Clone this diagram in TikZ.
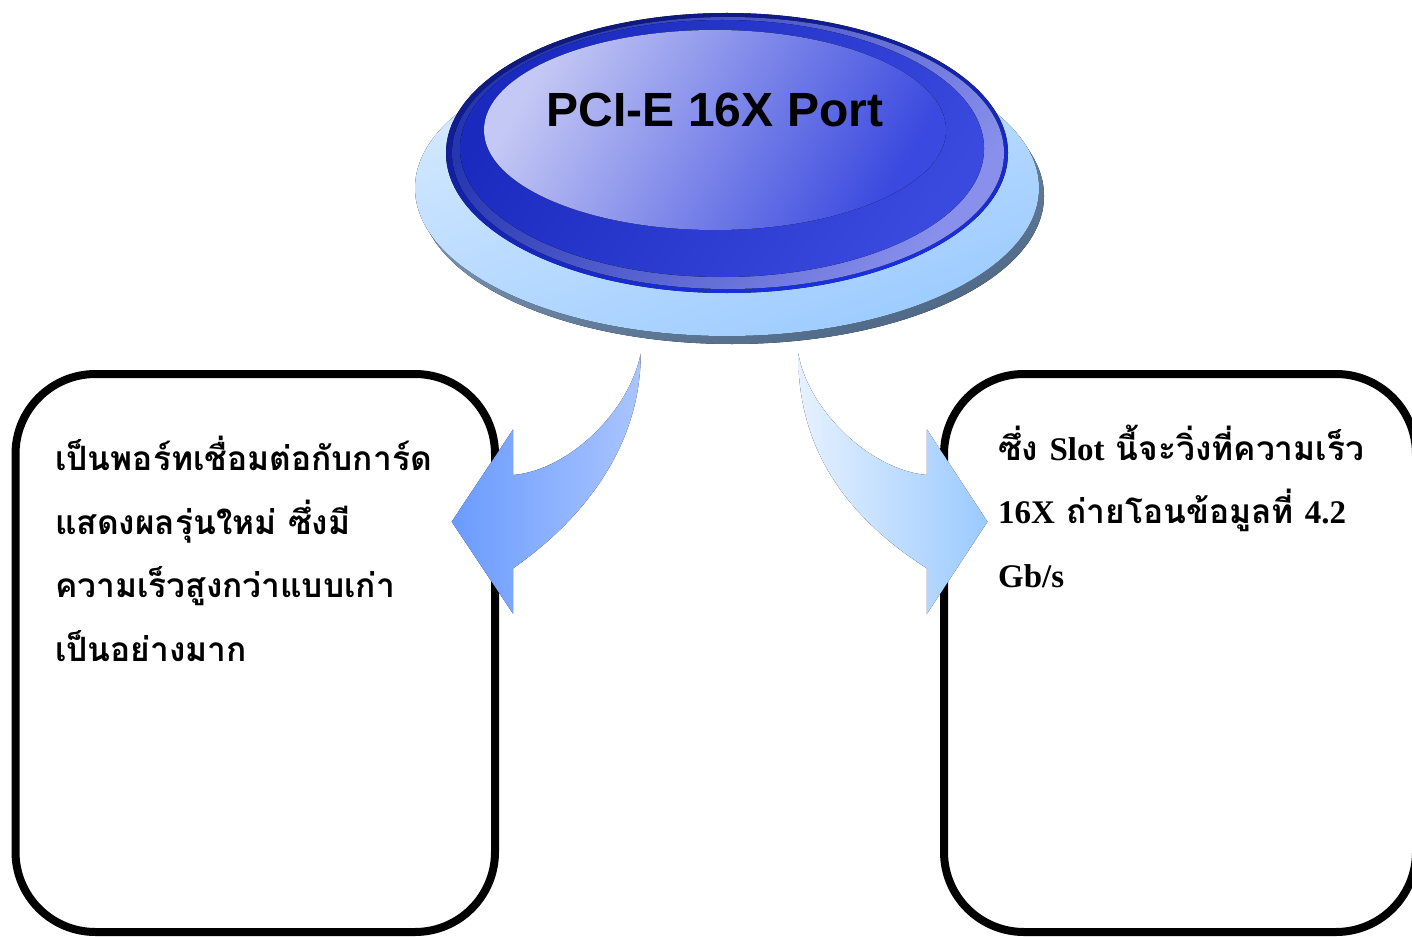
\documentclass[tikz,border=0pt]{standalone}
\usepackage{fontspec}
\newfontfamily\thfont[Script=Thai]{Loma}
\newfontfamily\latfont{Liberation Serif}
\newfontfamily\hdfont{Liberation Sans}
\definecolor{shadowL}{HTML}{8FAAC6}
\definecolor{shadowR}{HTML}{4E6785}
\definecolor{plateL}{HTML}{D6EAFF}
\definecolor{plateR}{HTML}{9CCBFF}
\definecolor{rimL}{HTML}{0E1878}
\definecolor{rimR}{HTML}{1A30E8}
\definecolor{bevL}{HTML}{2636B2}
\definecolor{bevR}{HTML}{8890EC}
\definecolor{ringL}{HTML}{1A29BE}
\definecolor{ringR}{HTML}{3A4ADE}
\definecolor{capL}{HTML}{C4C8F4}
\definecolor{capM}{HTML}{6472E4}
\definecolor{capR}{HTML}{3A49DF}
\definecolor{arrLa}{HTML}{6A9BFF}
\definecolor{arrLb}{HTML}{AAC5FF}
\definecolor{arrRa}{HTML}{E6F1FF}
\definecolor{arrRb}{HTML}{9BCAFF}
\tikzset{
  txtbox/.style={draw=black, line width=8pt, rounded corners=80pt, fill=white, inner sep=0pt},
  thline/.style={anchor=base west, inner sep=0pt, font=\thfont\bfseries\fontsize{33.5}{34}\selectfont},
}
\newcommand{\lat}[1]{{\latfont\bfseries\fontsize{33}{33}\selectfont #1}}
\begin{document}
\begin{tikzpicture}[x=1pt,y=-1pt]
\useasboundingbox (0,0) rectangle (1412,936);
\clip (0,0) rectangle (1412,936);
\fill[white] (0,0) rectangle (1412,936);

% boxes
\node[txtbox, minimum width=479.5pt, minimum height=558pt] (lbox) at (255.25,653) {};
\node[txtbox, minimum width=472pt, minimum height=558pt] (rbox) at (1180,653) {};

% texts left
\node[thline] (l1) at (55,470) {เป็นพอร์ทเชื่อมต่อกับการ์ด};
\node[thline] (l2) at (55,534) {แสดงผลรุ่นใหม่ ซึ่งมี};
\node[thline] (l3) at (55,597) {ความเร็วสูงกว่าแบบเก่า};
\node[thline] (l4) at (55,661) {เป็นอย่างมาก};

% texts right
\node[thline] (r1) at (998,460) {ซึ่ง \lat{Slot} นี้จะวิ่งที่ความเร็ว};
\node[thline] (r2) at (998,523) {\lat{16X} ถ่ายโอนข้อมูลที่ \lat{4.2}};
\node[thline] (r3) at (998,587) {\lat{Gb/s}};

% plate with shadow
\fill[left color=shadowL, right color=shadowR, shading angle=20] (732,196) ellipse [x radius=312, y radius=148];
\fill[left color=plateL, right color=plateR, shading angle=20] (727,188) ellipse [x radius=312, y radius=148];
% button
\fill[left color=rimL, right color=rimR, shading angle=15] (727,153) ellipse [x radius=281, y radius=140];
\fill[top color=bevL, bottom color=bevR, shading angle=55] (728,153) ellipse [x radius=276, y radius=136];
\fill[top color=ringL, bottom color=ringR, shading angle=55] (722,148.5) ellipse [x radius=262, y radius=128.5];
\fill[top color=capL, middle color=capM, bottom color=capR, shading angle=60] (715,130) ellipse [x radius=231, y radius=100];
\node[font=\hdfont\bfseries\fontsize{48}{48}\selectfont, anchor=base, inner sep=0pt] (title) at (715,127) {PCI-E 16X Port};

% left arrow
\fill[left color=arrLa, right color=arrLb]
  (640.7,353.3) .. controls (641,420) and (610,500) .. (513.2,568.3)
  -- (513.2,614) -- (451.7,521.7) -- (513.2,429.3) -- (513.2,475)
  .. controls (570,470) and (630,410) .. (640.7,353.3) -- cycle;
% right arrow
\fill[left color=arrRa, right color=arrRb]
  (798.2,353.3) .. controls (798,420) and (820,500) .. (926.8,568.3)
  -- (926.8,614) -- (987.5,521.7) -- (926.8,429.3) -- (926.8,475)
  .. controls (870,470) and (808,410) .. (798.2,353.3) -- cycle;
\end{tikzpicture}
\end{document}
